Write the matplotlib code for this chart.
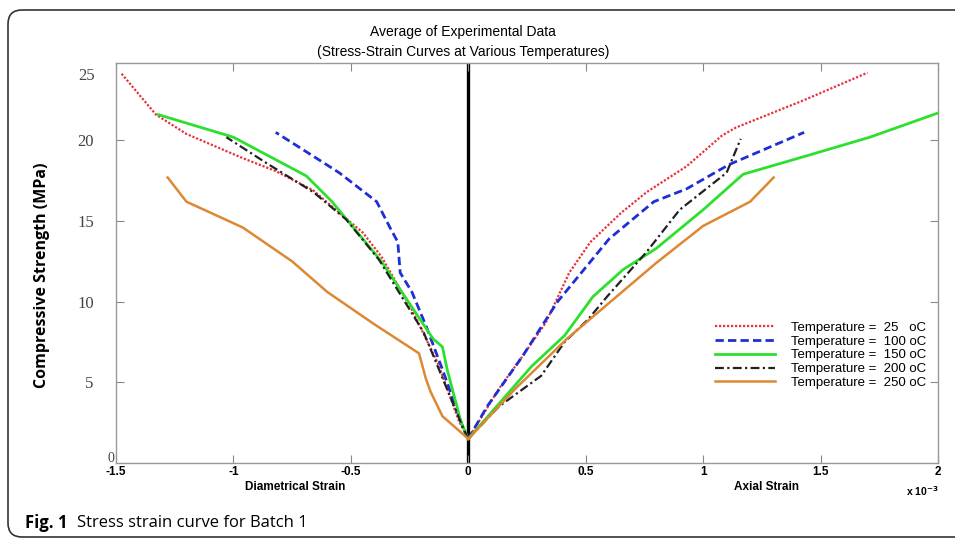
import matplotlib
matplotlib.use("Agg")
import matplotlib.pyplot as plt
from matplotlib.patches import FancyBboxPatch
from matplotlib.transforms import IdentityTransform, blended_transform_factory

# strain in units of 1e-3, stress in MPa
temps = ["25", "100", "150", "200", "250"]
labels = ["Temperature =  25   oC", "Temperature =  100 oC", "Temperature =  150 oC",
          "Temperature =  200 oC", "Temperature =  250 oC"]

diam_25 = [0, -0.04, -0.13, -0.24, -0.37, -0.45, -0.54, -0.66, -0.82, -0.96, -1.20, -1.33, -1.48]
diam_25_s = [1.5, 2.6, 6.2, 9.5, 12.8, 14.3, 15.4, 16.9, 18.1, 18.9, 20.4, 21.6, 24.2]
axial_25 = [0, 0.13, 0.23, 0.33, 0.43, 0.52, 0.65, 0.76, 0.93, 1.08, 1.14, 1.43, 1.70]
axial_25_s = [1.5, 4.6, 6.6, 8.7, 11.8, 13.7, 15.5, 16.8, 18.4, 20.3, 20.8, 22.5, 24.2]

diam_100 = [0, -0.02, -0.11, -0.18, -0.24, -0.29, -0.30, -0.33, -0.39, -0.55, -0.69, -0.82]
diam_100_s = [1.5, 2.1, 5.8, 8.5, 10.6, 11.8, 13.7, 14.5, 16.2, 18.0, 19.3, 20.5]
axial_100 = [0, 0.08, 0.23, 0.38, 0.60, 0.79, 0.93, 1.11, 1.43]
axial_100_s = [1.5, 3.5, 6.6, 10.0, 13.9, 16.2, 17.0, 18.5, 20.5]

diam_150 = [0, -0.03, -0.09, -0.11, -0.15, -0.37, -0.58, -0.69, -1.00, -1.32]
diam_150_s = [1.5, 2.5, 5.8, 7.2, 7.7, 12.5, 16.2, 17.8, 20.2, 21.6]
axial_150 = [0, 0.27, 0.41, 0.53, 0.66, 0.80, 1.00, 1.17, 1.43, 1.71, 2.00]
axial_150_s = [1.5, 6.0, 7.9, 10.3, 12.0, 13.3, 15.7, 17.9, 19.0, 20.2, 21.7]

diam_200 = [0, -0.02, -0.19, -0.38, -0.52, -0.66, -0.86, -1.03]
diam_200_s = [1.5, 2.1, 8.1, 12.6, 15.1, 16.8, 18.6, 20.2]
axial_200 = [0, 0.13, 0.31, 0.41, 0.51, 0.59, 0.76, 0.90, 1.10, 1.16]
axial_200_s = [1.5, 3.5, 5.4, 7.5, 8.9, 10.3, 13.1, 15.7, 18.0, 20.1]

diam_250 = [0, -0.11, -0.16, -0.18, -0.21, -0.40, -0.60, -0.75, -0.96, -1.20, -1.28]
diam_250_s = [1.5, 2.9, 4.4, 5.2, 6.8, 8.6, 10.6, 12.5, 14.6, 16.2, 17.7]
axial_250 = [0, 0.20, 0.42, 0.63, 0.80, 1.00, 1.20, 1.30]
axial_250_s = [1.5, 4.6, 7.7, 10.3, 12.4, 14.7, 16.2, 17.7]

diam = {"25": (diam_25, diam_25_s), "100": (diam_100, diam_100_s), "150": (diam_150, diam_150_s),
        "200": (diam_200, diam_200_s), "250": (diam_250, diam_250_s)}
axial = {"25": (axial_25, axial_25_s), "100": (axial_100, axial_100_s), "150": (axial_150, axial_150_s),
         "200": (axial_200, axial_200_s), "250": (axial_250, axial_250_s)}

styles = {
    "25": dict(color="#e8323c", lw=1.6, linestyle=(0, (1, 0.8))),
    "100": dict(color="#1f2fd6", lw=2.0, linestyle=(0, (3, 1.5))),
    "150": dict(color="#2ee02e", lw=2.0, linestyle="-"),
    "200": dict(color="#222222", lw=1.6, linestyle=(0, (4, 1.5, 1, 1.5))),
    "250": dict(color="#dd8833", lw=1.8, linestyle="-"),
}

x_ticks = [-1.5, -1, -0.5, 0, 0.5, 1, 1.5, 2]
x_ticklabels = ["-1.5", "-1", "-0.5", "0", "0.5", "1", "1.5", "2"]
y_ticks = [5, 10, 15, 20]

fig = plt.figure(figsize=(9.55, 5.39), dpi=100, facecolor="white")
ax = fig.add_axes([116 / 955, 1 - 463 / 539, (938 - 116) / 955, (463 - 63) / 539])

for t, lab in zip(temps, labels):
    xs, ys = diam[t]
    ax.plot(xs, ys, label=lab, **styles[t])
    xs, ys = axial[t]
    ax.plot(xs, ys, **styles[t])

ax.axvline(0, color="black", lw=2.4, zorder=1)

ax.set_xlim(-1.5, 2)
ax.set_ylim(0, 24.8)
ax.set_xticks(x_ticks)
ax.set_xticklabels(x_ticklabels, fontfamily="Liberation Sans", fontweight="bold", fontsize=8.5)
ax.set_yticks(y_ticks)
ax.set_yticklabels([str(v) for v in y_ticks], fontfamily="Liberation Serif", fontsize=12, color="#444444")
ax.tick_params(axis="x", direction="in", top=True, length=6, pad=2, color="#888888")
ax.tick_params(axis="y", direction="in", right=True, length=6, pad=16, color="#888888")
for sp in ax.spines.values():
    sp.set_color("#999999")
    sp.set_linewidth(1.0)

# odd placements of the "25" and "0" tick labels in the original
ytr = blended_transform_factory(fig.transFigure, ax.transData)
ax.text(87 / 955, 24.0, "25", transform=ytr, ha="center", va="center",
        fontfamily="Liberation Serif", fontsize=12, color="#444444")
ax.text(111 / 955, 0.25, "0", transform=ytr, ha="center", va="center",
        fontfamily="Liberation Serif", fontsize=10, color="#444444")

leg = ax.legend(loc="upper left", bbox_to_anchor=(708 / 955, 1 - 315 / 539),
                bbox_transform=fig.transFigure, frameon=False, borderpad=0,
                handlelength=4.6, handletextpad=1.2, labelspacing=0.12,
                prop={"family": "Liberation Sans", "size": 9.5})

fig.text(463 / 955, 1 - 32 / 539, "Average of Experimental Data", ha="center", va="center",
         fontfamily="Liberation Sans", fontsize=10)
fig.text(463 / 955, 1 - 52 / 539, "(Stress-Strain Curves at Various Temperatures)", ha="center",
         va="center", fontfamily="Liberation Sans", fontsize=10)

fig.text(42 / 955, 1 - 275 / 539, "Compressive Strength (MPa)", rotation=90, ha="center",
         va="center", fontfamily="Open Sans", fontweight="bold", fontsize=11.5)

fig.text(295 / 955, 1 - 487 / 539, "Diametrical Strain", ha="center", va="center",
         fontfamily="Liberation Sans", fontweight="bold", fontsize=8.5)
fig.text(767 / 955, 1 - 487 / 539, "Axial Strain", ha="center", va="center",
         fontfamily="Liberation Sans", fontweight="bold", fontsize=8.5)
fig.text(922 / 955, 1 - 491 / 539, r"x 10$^{\mathbf{-3}}$", ha="center", va="center",
         fontfamily="Liberation Sans", fontweight="bold", fontsize=7.5)

# caption and rounded frame
cap1 = fig.text(25 / 955, 1 - 523 / 539, "Fig. 1", ha="left", va="center",
                fontfamily="Open Sans", fontweight="bold", fontsize=12)
renderer = fig.canvas.get_renderer()
bb = cap1.get_window_extent(renderer)
fig.text((bb.x1 + 9) / 955, 1 - 523 / 539, "Stress strain curve for Batch 1", ha="left",
         va="center", fontfamily="Open Sans", fontsize=12)

frame = FancyBboxPatch((8, 2), 1000, 527, boxstyle="round,pad=0,rounding_size=14",
                       transform=IdentityTransform(), fc="none", ec="#333333", lw=1.2)
fig.patches.append(frame)

fig.savefig("out.png", dpi=100, facecolor="white")
